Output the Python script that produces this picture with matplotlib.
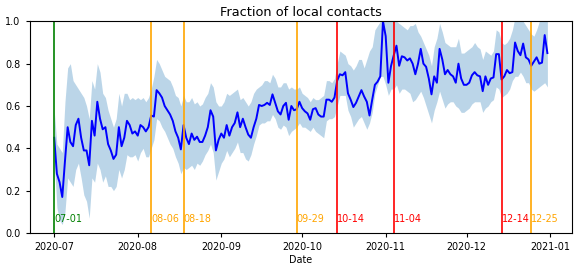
import numpy as np
import pandas as pd
import matplotlib
matplotlib.use("Agg")
import matplotlib.pyplot as plt
import matplotlib.dates as mdates

# daily fraction of local contacts, 2020-07-01 .. 2020-12-31
dates = pd.date_range("2020-07-01", "2020-12-31", freq="D")

fraction = [
    0.45, 0.28, 0.24, 0.17, 0.34, 0.50, 0.43, 0.41, 0.51, 0.54,
    0.45, 0.39, 0.39, 0.32, 0.53, 0.46, 0.62, 0.54, 0.49, 0.50,
    0.42, 0.39, 0.35, 0.37, 0.50, 0.41, 0.45, 0.53, 0.51, 0.47,
    0.48, 0.46, 0.51, 0.50, 0.48, 0.50, 0.555, 0.55, 0.675, 0.66,
    0.64, 0.60, 0.58, 0.56, 0.53, 0.48, 0.45, 0.395, 0.51, 0.45,
    0.42, 0.47, 0.44, 0.455, 0.43, 0.43, 0.46, 0.50, 0.58, 0.55,
    0.39, 0.44, 0.47, 0.45, 0.51, 0.46, 0.50, 0.52, 0.57, 0.50,
    0.54, 0.50, 0.465, 0.45, 0.50, 0.54, 0.605, 0.60, 0.605, 0.615,
    0.605, 0.655, 0.615, 0.575, 0.56, 0.60, 0.615, 0.535, 0.60, 0.58,
    0.585, 0.62, 0.59, 0.575, 0.565, 0.535, 0.585, 0.59, 0.56, 0.55,
    0.55, 0.63, 0.63, 0.62, 0.64, 0.72, 0.75, 0.745, 0.76, 0.66,
    0.63, 0.595, 0.615, 0.645, 0.675, 0.645, 0.62, 0.555, 0.63, 0.70,
    0.715, 0.74, 1.00, 0.93, 0.71, 0.79, 0.84, 0.885, 0.79, 0.835,
    0.83, 0.815, 0.825, 0.80, 0.75, 0.80, 0.87, 0.80, 0.785, 0.73,
    0.655, 0.74, 0.71, 0.87, 0.82, 0.75, 0.77, 0.75, 0.74, 0.71,
    0.80, 0.73, 0.70, 0.70, 0.71, 0.745, 0.76, 0.745, 0.74, 0.67,
    0.74, 0.70, 0.73, 0.735, 0.845, 0.845, 0.725, 0.74, 0.77, 0.755,
    0.76, 0.90, 0.86, 0.84, 0.895, 0.83, 0.82, 0.79, 0.81, 0.83,
    0.80, 0.805, 0.935, 0.85,
]

upper = [
    0.58, 0.42, 0.40, 0.38, 0.62, 0.78, 0.80, 0.72, 0.70, 0.68,
    0.66, 0.64, 0.60, 0.54, 0.72, 0.68, 0.80, 0.76, 0.66, 0.64,
    0.58, 0.54, 0.50, 0.54, 0.66, 0.60, 0.66, 0.66, 0.63, 0.64,
    0.63, 0.64, 0.63, 0.64, 0.62, 0.64, 0.68, 0.74, 0.82, 0.80,
    0.77, 0.74, 0.73, 0.72, 0.69, 0.65, 0.64, 0.60, 0.65, 0.62,
    0.62, 0.64, 0.61, 0.62, 0.60, 0.61, 0.64, 0.66, 0.71, 0.69,
    0.62, 0.60, 0.60, 0.62, 0.66, 0.65, 0.66, 0.67, 0.68, 0.63,
    0.64, 0.62, 0.60, 0.62, 0.66, 0.68, 0.69, 0.70, 0.72, 0.72,
    0.71, 0.75, 0.73, 0.69, 0.69, 0.71, 0.71, 0.68, 0.69, 0.68,
    0.68, 0.69, 0.66, 0.65, 0.64, 0.62, 0.64, 0.63, 0.63, 0.64,
    0.65, 0.72, 0.72, 0.71, 0.73, 0.80, 0.86, 0.85, 0.84, 0.80,
    0.79, 0.77, 0.79, 0.82, 0.82, 0.78, 0.82, 0.86, 0.88, 0.96,
    0.98, 1.00, 1.05, 1.05, 1.00, 1.00, 1.02, 1.00, 0.99, 0.98,
    0.97, 0.96, 0.98, 0.98, 0.99, 0.95, 0.93, 0.90, 0.87, 0.84,
    0.79, 0.88, 0.92, 0.99, 0.95, 0.90, 0.89, 0.88, 0.88, 0.88,
    0.92, 0.85, 0.85, 0.86, 0.87, 0.88, 0.90, 0.88, 0.87, 0.82,
    0.86, 0.85, 0.84, 0.86, 0.96, 0.95, 0.90, 0.89, 0.90, 0.92,
    0.96, 1.02, 1.00, 1.00, 1.00, 0.98, 0.96, 0.94, 0.93, 0.96,
    1.00, 1.00, 1.02, 1.02,
]

lower = [
    0.36, 0.12, 0.06, 0.04, 0.10, 0.26, 0.24, 0.22, 0.30, 0.33,
    0.26, 0.18, 0.15, 0.07, 0.26, 0.24, 0.33, 0.30, 0.24, 0.27,
    0.22, 0.22, 0.20, 0.22, 0.30, 0.26, 0.30, 0.37, 0.36, 0.36,
    0.37, 0.34, 0.38, 0.40, 0.36, 0.36, 0.40, 0.44, 0.54, 0.53,
    0.50, 0.48, 0.45, 0.42, 0.40, 0.36, 0.33, 0.28, 0.31, 0.30,
    0.31, 0.32, 0.30, 0.33, 0.32, 0.34, 0.37, 0.39, 0.42, 0.38,
    0.25, 0.29, 0.33, 0.35, 0.39, 0.36, 0.38, 0.40, 0.43, 0.38,
    0.38, 0.35, 0.34, 0.37, 0.42, 0.46, 0.51, 0.52, 0.52, 0.53,
    0.53, 0.56, 0.54, 0.50, 0.49, 0.51, 0.50, 0.46, 0.48, 0.49,
    0.50, 0.52, 0.50, 0.50, 0.49, 0.48, 0.50, 0.48, 0.47, 0.46,
    0.45, 0.53, 0.54, 0.54, 0.55, 0.60, 0.65, 0.65, 0.65, 0.58,
    0.55, 0.50, 0.52, 0.54, 0.55, 0.52, 0.49, 0.52, 0.57, 0.66,
    0.70, 0.74, 0.74, 0.70, 0.65, 0.68, 0.68, 0.70, 0.66, 0.68,
    0.68, 0.67, 0.66, 0.62, 0.63, 0.65, 0.67, 0.64, 0.60, 0.56,
    0.52, 0.58, 0.62, 0.67, 0.63, 0.59, 0.61, 0.62, 0.62, 0.60,
    0.59, 0.57, 0.57, 0.58, 0.59, 0.61, 0.62, 0.62, 0.62, 0.57,
    0.59, 0.60, 0.62, 0.63, 0.69, 0.68, 0.64, 0.65, 0.66, 0.68,
    0.72, 0.74, 0.74, 0.76, 0.74, 0.71, 0.71, 0.68, 0.67, 0.68,
    0.69, 0.70, 0.71, 0.69,
]

event_dates = ["2020-07-01", "2020-08-06", "2020-08-18", "2020-09-29",
               "2020-10-14", "2020-11-04", "2020-12-14", "2020-12-25"]
event_labels = ["07-01", "08-06", "08-18", "09-29",
                "10-14", "11-04", "12-14", "12-25"]
event_colors = ["green", "orange", "orange", "orange",
                "red", "red", "red", "orange"]

fig, ax = plt.subplots(figsize=(5.79, 2.70), dpi=100)
fig.subplots_adjust(left=0.051, right=0.988, top=0.921, bottom=0.137)

ax.fill_between(dates, lower, upper, color="C0", alpha=0.3, linewidth=0)
ax.plot(dates, fraction, color="blue", linewidth=1.4)

for d, lab, c in zip(event_dates, event_labels, event_colors):
    d = pd.Timestamp(d)
    ax.axvline(d, color=c, linewidth=1.2)
    ax.text(d, 0.065, lab, color=c, fontsize=6.9, ha="left", va="center")

ax.set_ylim(0, 1)
ax.xaxis.set_major_locator(mdates.MonthLocator())
ax.xaxis.set_major_formatter(mdates.DateFormatter("%Y-%m"))
ax.tick_params(labelsize=6.9, length=3)
ax.set_xlabel("Date", fontsize=6.9, labelpad=2)
ax.set_title("Fraction of local contacts", fontsize=9.3, pad=4)

fig.savefig("out.png", dpi=100)
